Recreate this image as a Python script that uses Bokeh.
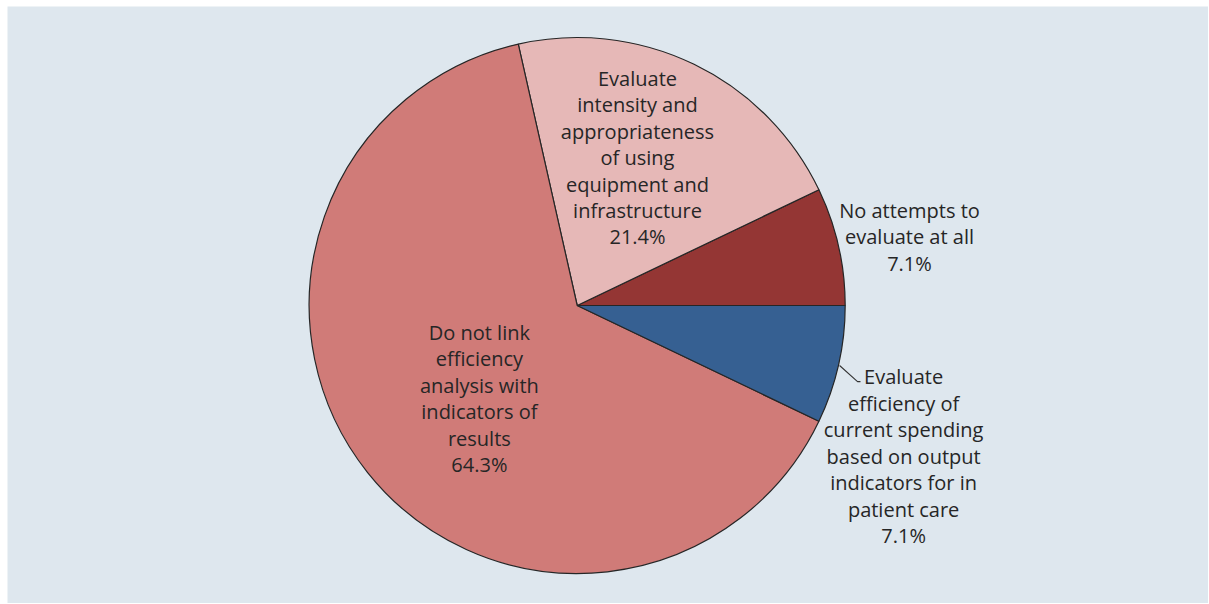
import math
from bokeh.plotting import figure
from bokeh.models import Range1d, ColumnDataSource
from bokeh.core.properties import value
from bokeh.embed import file_html
from bokeh.resources import INLINE

# ---- data ----
categories = [
    "No attempts to\nevaluate at all",
    "Evaluate\nintensity and\nappropriateness\nof using\nequipment and\ninfrastructure",
    "Do not link\nefficiency\nanalysis with\nindicators of\nresults",
    "Evaluate\nefficiency of\ncurrent spending\nbased on output\nindicators for in\npatient care",
]
shares = [7.1, 21.4, 64.3, 7.1]
colors = ["#943634", "#e6b8b7", "#d07b78", "#366092"]

# ---- layout (label anchors in pie-radius units) ----
label_pos = [(1.240, 0.257), (0.225, 0.552), (-0.365, -0.347), (1.218, -0.562)]
leader = ([0.979, 1.046, 1.057], [-0.224, -0.284, -0.284])

BL, BT = 7, 6            # white margin left/top
FW, FH = 1201, 597       # frame size
scale = 268.0
cx_px, cy_px = 569.7, 299.0   # pie centre inside frame

total = sum(shares)
starts, ends = [], []
acc = 0.0
for s in shares:
    starts.append(2 * math.pi * acc / total)
    acc += s
    ends.append(2 * math.pi * acc / total)

labels = [f"{c}\n{s:.1f}%" for c, s in zip(categories, shares)]

src = ColumnDataSource(dict(start=starts, end=ends, color=colors,
                            lx=[p[0] for p in label_pos], ly=[p[1] for p in label_pos],
                            label=labels))

x0 = -cx_px / scale
y1 = cy_px / scale
p = figure(width=FW + BL, height=FH + BT, output_backend="svg", toolbar_location=None,
           x_range=Range1d(x0, x0 + FW / scale), y_range=Range1d(y1 - FH / scale, y1),
           min_border=0, min_border_left=BL, min_border_right=0,
           min_border_top=BT, min_border_bottom=0)
p.axis.visible = False
p.grid.visible = False
p.outline_line_color = None
p.background_fill_color = "#dee7ee"
p.border_fill_color = "white"

p.wedge(x=0, y=0, radius=1.0, start_angle="start", end_angle="end",
        fill_color="color", line_color="#262626", line_width=1.2, source=src)

p.line(leader[0], leader[1], line_color="#333333", line_width=1.1)

p.text(x="lx", y="ly", text="label", source=src, text_align="center",
       text_baseline="middle", text_font=value("Open Sans"), text_font_size="20px",
       text_line_height=0.98, text_color="#262626")

open("out.html", "w").write(file_html(p, INLINE))
